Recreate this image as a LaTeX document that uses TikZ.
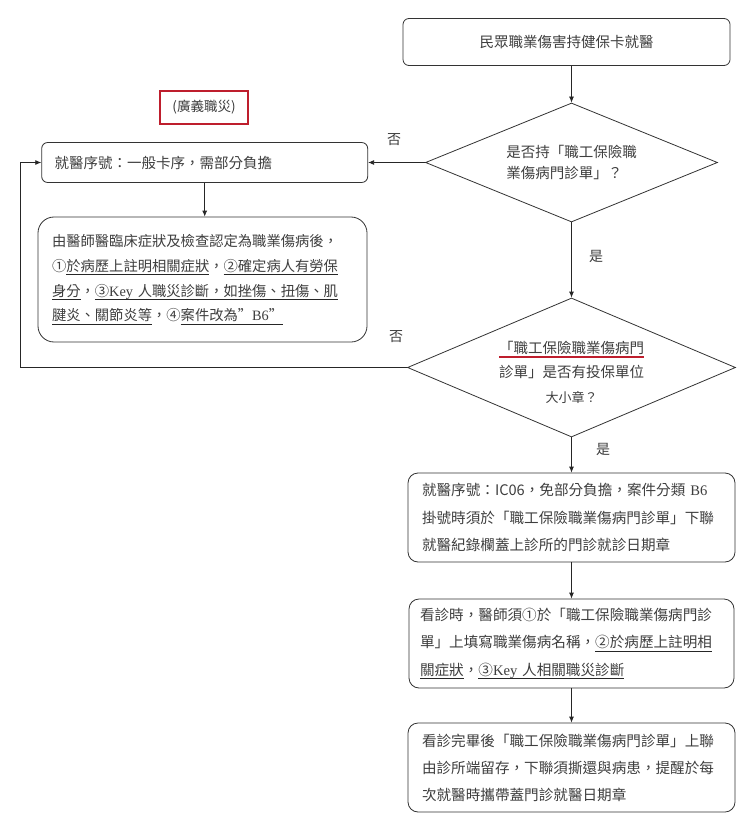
\documentclass[tikz,border=0pt]{standalone}
\usepackage{fontspec}
\setmainfont{Noto Sans CJK TC}
\newfontfamily\latf{Liberation Serif}
\usetikzlibrary{shapes.geometric,arrows.meta}
\definecolor{txt}{RGB}{62,62,62}
\definecolor{redc}{RGB}{190,30,45}
\newcommand\redul[1]{\leavevmode\setbox0\hbox{#1}\rlap{\textcolor{redc}{\rule[-5pt]{\wd0}{1.8pt}}}\box0}
\newcommand\ulx[1]{\leavevmode\setbox0\hbox{#1}\rlap{\textcolor{black!85}{\rule[-3.5pt]{\wd0}{0.6pt}}}\box0}
\begin{document}
\begin{tikzpicture}[x=1pt,y=-1pt,
  box/.style={draw=black!80, line width=0.8pt, rounded corners=6pt, inner sep=0pt, text=txt, font=\fontsize{14.5}{26}\selectfont},
  dec/.style={draw=black!80, line width=0.8pt, shape=diamond, inner sep=0pt},
  dtext/.style={text=txt, inner sep=0pt},
  arr/.style={draw=black!85, line width=0.8pt, -{Latex[length=6pt,width=5pt]}},
  lbl/.style={text=txt, font=\fontsize{14}{16}\selectfont, inner sep=0pt}]
\fill[white] (0,0) rectangle (745,821);
\useasboundingbox (0,0) rectangle (745,821);

\node[box, minimum width=327pt, minimum height=47pt] (top) at (566.5,42) {民眾職業傷害持健保卡就醫};

\node[dec, minimum width=292pt, minimum height=119pt] (d1) at (571.5,162.5) {};
\node[dtext, align=left, font=\fontsize{14.5}{21.5}\selectfont] (d1t) at (d1.center) {是否持「職工保險職\\業傷病門診單」？};

\node[dec, minimum width=328pt, minimum height=139pt] (d2) at (571.5,367.5) {};
\node[dtext, align=center, font=\fontsize{14.5}{24.5}\selectfont] (d2t) at (571.5,372) {\redul{「職工保險職業傷病門}\\診單」是否有投保單位\\{\fontsize{13}{24.5}\selectfont 大小章？}};

\node[draw=redc, line width=2pt, minimum width=88pt, minimum height=33pt, inner sep=0pt, text=txt, font=\fontsize{13.5}{15}\selectfont] (tag) at (204,107.5) {(廣義職災)};

\node[box, minimum width=326pt, minimum height=40pt, text width=300pt, inner xsep=13pt, align=left] (L1) at (204.7,162.5) {就醫序號：一般卡序，需部分負擔};

\node[box, rounded corners=16pt, minimum width=329pt, minimum height=125pt, text width=301pt, inner xsep=14pt, align=left, font=\fontsize{14.3}{24.7}\selectfont] (L2) at (202.5,279.5) {由醫師醫臨床症狀及檢查認定為職業傷病後，\\①\ulx{於病歷上註明相關症狀}，\ulx{②確定病人有勞保}\\\ulx{身分}，\ulx{③{\latf Key} 人職災診斷，如挫傷、扭傷、肌}\\\ulx{腱炎、關節炎等}，④\ulx{案件改為”{\latf B6}”}};

\node[box, rounded corners=10pt, minimum width=327pt, minimum height=89pt, text width=299pt, inner xsep=14pt, align=left, font=\fontsize{14.6}{27.5}\selectfont] (B3) at (571.5,517.5) {就醫序號：IC06，免部分負擔，案件分類 {\latf B6}\\掛號時須於「職工保險職業傷病門診單」下聯\\就醫紀錄欄蓋上診所的門診就診日期章};

\node[box, rounded corners=10pt, minimum width=325pt, minimum height=89pt, text width=303pt, inner xsep=11pt, align=left, font=\fontsize{14.6}{27.5}\selectfont] (B4) at (571.5,643.5) {看診時，醫師須①於「職工保險職業傷病門診\\單」上填寫職業傷病名稱，\ulx{②於病歷上註明相}\\\ulx{關症狀}，\ulx{③{\latf Key} 人相關職災診斷}};

\node[box, rounded corners=10pt, minimum width=327pt, minimum height=89pt, text width=299pt, inner xsep=14pt, align=left, font=\fontsize{14.6}{27}\selectfont] (B5) at (571.5,767.5) {看診完畢後「職工保險職業傷病門診單」上聯\\由診所端留存，下聯須撕還與病患，提醒於每\\次就醫時攜帶蓋門診就醫日期章};

\node[lbl] (n1) at (394,140) {否};
\node[lbl] (y1) at (596,256) {是};
\node[lbl] (n2) at (396,337) {否};
\node[lbl] (y2) at (603,449) {是};

\coordinate (lp) at (20,367.5);
\draw[arr] (top.south -| d1.north) -- (d1.north);
\draw[arr] (d1.west) -- (d1.west -| L1.east);
\draw[arr] (d1.south) -- (d2.north);
\draw[arr] (d2.west) -- (lp) |- (L1.west);
\draw[arr] (L1.south) -- (L1.south |- L2.north);
\draw[arr] (d2.south) -- (B3.north);
\draw[arr] (B3.south) -- (B4.north);
\draw[arr] (B4.south) -- (B5.north);
\end{tikzpicture}
\end{document}
